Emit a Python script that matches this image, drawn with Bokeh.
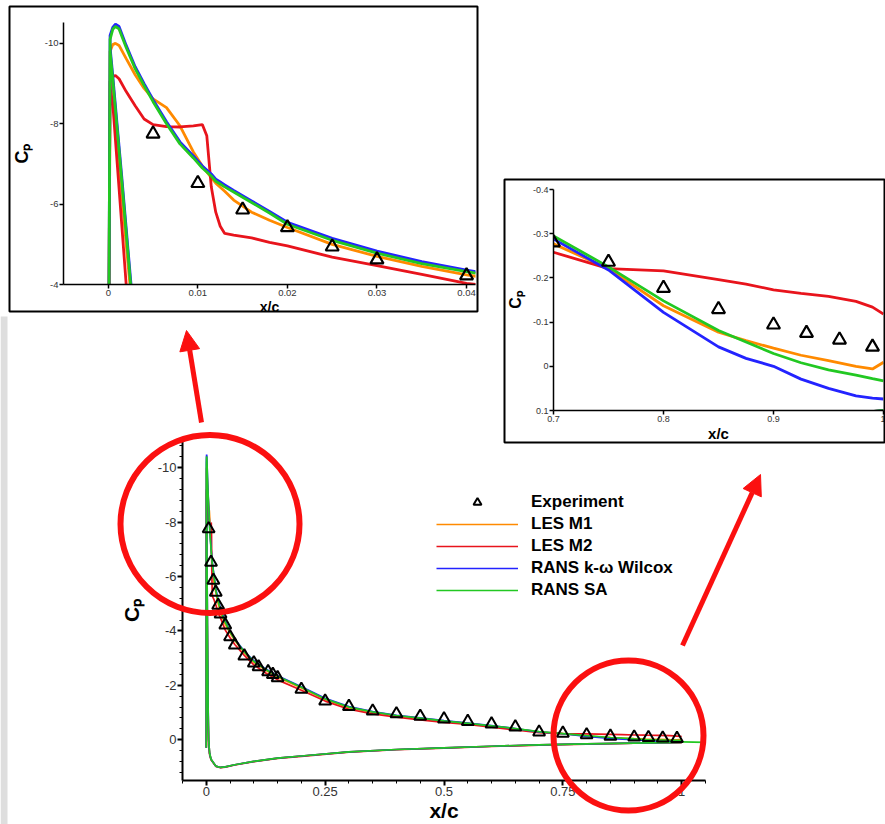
from bokeh.plotting import figure
from bokeh.models import (Range1d, FixedTicker, CustomJSTickFormatter, Legend, LegendItem,
                          GridBox, Arrow, NormalHead)
from bokeh.embed import file_html
from bokeh.resources import INLINE

# ---------------- data ----------------
series_names = ["LES M1", "LES M2", "RANS k-\u03c9 Wilcox", "RANS SA"]

# upper surface, leading edge -> trailing edge
x_up = [0.0002, 0.0005, 0.0008, 0.0012, 0.002, 0.003, 0.004, 0.005, 0.0065, 0.008,
        0.0095, 0.0105, 0.011, 0.0115, 0.012, 0.0125, 0.013, 0.014, 0.016, 0.018,
        0.02, 0.025, 0.03, 0.035, 0.04, 0.05, 0.06, 0.08, 0.1, 0.125,
        0.15, 0.2, 0.25, 0.3, 0.35, 0.4, 0.45, 0.5, 0.55, 0.6,
        0.65, 0.7, 0.75, 0.8, 0.85, 0.875, 0.9, 0.925, 0.95, 0.975, 0.99, 1.0]
cp_up_m1 = [-9.8, -9.97, -10.0, -9.95, -9.62, -9.22, -8.88, -8.62, -8.4, -7.95,
            -7.3, -6.95, -6.8, -6.66, -6.52, -6.42, -6.32, -6.1, -5.8, -5.6,
            -5.42, -5.0, -4.7, -4.45, -4.24, -3.92, -3.65, -3.2, -2.85, -2.55,
            -2.3, -1.9, -1.48, -1.18, -1.0, -0.88, -0.78, -0.68, -0.6, -0.5,
            -0.4, -0.277, -0.221, -0.137, -0.077, -0.058, -0.041, -0.025, -0.013, 0.0, 0.006, -0.009]
cp_up_m2 = [-9.05, -9.18, -9.2, -9.12, -8.8, -8.45, -8.12, -7.98, -7.93, -7.92,
            -7.95, -7.98, -7.7, -6.43, -5.8, -5.45, -5.27, -5.23, -5.16, -5.05,
            -4.96, -4.68, -4.47, -4.25, -4.03, -3.75, -3.5, -3.1, -2.75, -2.45,
            -2.2, -1.82, -1.42, -1.12, -0.95, -0.83, -0.73, -0.64, -0.56, -0.46,
            -0.36, -0.258, -0.221, -0.216, -0.196, -0.186, -0.173, -0.165, -0.158, -0.147, -0.134, -0.118]
cp_up_kw = [-10.2, -10.4, -10.48, -10.42, -9.95, -9.42, -9.0, -8.6, -8.05, -7.55,
            -7.2, -6.95, -6.85, -6.75, -6.62, -6.55, -6.48, -6.34, -6.08, -5.82,
            -5.55, -5.15, -4.83, -4.57, -4.36, -4.0, -3.7, -3.25, -2.9, -2.6,
            -2.35, -1.95, -1.52, -1.22, -1.03, -0.9, -0.8, -0.7, -0.61, -0.52,
            -0.41, -0.288, -0.218, -0.122, -0.044, -0.018, 0.0, 0.029, 0.05, 0.067, 0.072, 0.074]
cp_up_sa = [-10.1, -10.35, -10.42, -10.36, -9.9, -9.37, -8.95, -8.55, -8.0, -7.5,
            -7.15, -6.9, -6.8, -6.7, -6.57, -6.5, -6.43, -6.3, -6.04, -5.78,
            -5.5, -5.1, -4.78, -4.52, -4.32, -3.97, -3.68, -3.23, -2.88, -2.58,
            -2.33, -1.93, -1.5, -1.2, -1.02, -0.89, -0.79, -0.69, -0.6, -0.51,
            -0.41, -0.295, -0.225, -0.148, -0.081, -0.055, -0.029, -0.008, 0.008, 0.02, 0.028, 0.033]

# lower surface, leading edge -> trailing edge (first point: leading-edge node)
x_lo = [0.0, 0.0002, 0.0005, 0.001, 0.0015, 0.002, 0.0025, 0.003, 0.004, 0.005,
        0.007, 0.01, 0.02, 0.03, 0.04, 0.06, 0.1, 0.15, 0.2, 0.3,
        0.4, 0.5, 0.6, 0.7, 0.8, 0.9, 1.0]
cp_lo_m1 = [0.3, -9.5, -8.9, -7.6, -6.3, -5.0, -3.8, -2.6, -0.9, 0.0,
            0.5, 0.72, 0.97, 1.02, 1.0, 0.92, 0.8, 0.68, 0.6, 0.45,
            0.36, 0.3, 0.24, 0.19, 0.15, 0.125, 0.1]
cp_lo_m2 = [0.3, -8.9, -8.5, -7.0, -5.5, -4.0, -2.8, -1.8, -0.5, 0.2,
            0.55, 0.74, 0.98, 1.03, 1.01, 0.93, 0.81, 0.69, 0.61, 0.46,
            0.37, 0.31, 0.25, 0.2, 0.16, 0.13, 0.11]
cp_lo_kw = [0.3, -9.9, -9.2, -7.95, -6.7, -5.4, -4.1, -2.9, -1.1, 0.0,
            0.5, 0.72, 0.97, 1.02, 1.0, 0.92, 0.8, 0.68, 0.6, 0.45,
            0.36, 0.3, 0.24, 0.19, 0.15, 0.125, 0.1]
cp_lo_sa = [0.3, -9.8, -9.1, -7.85, -6.6, -5.3, -4.0, -2.8, -1.0, 0.0,
            0.5, 0.72, 0.97, 1.02, 1.0, 0.92, 0.8, 0.68, 0.6, 0.45,
            0.36, 0.3, 0.24, 0.19, 0.15, 0.125, 0.1]
sa_wake_x = [1.0, 1.05]
sa_wake_cp = [0.08, 0.1]

exp_x = [0.005, 0.01, 0.015, 0.02, 0.025, 0.03, 0.04, 0.05, 0.06, 0.08,
         0.1, 0.11, 0.13, 0.14, 0.15, 0.2, 0.25, 0.3, 0.35, 0.4,
         0.45, 0.5, 0.55, 0.6, 0.65, 0.7, 0.75, 0.8, 0.85, 0.9,
         0.93, 0.96, 0.99]
exp_cp = [-7.75, -6.52, -5.86, -5.42, -4.94, -4.62, -4.22, -3.78, -3.48, -3.08,
          -2.82, -2.68, -2.5, -2.4, -2.28, -1.85, -1.42, -1.22, -1.05, -0.95,
          -0.86, -0.76, -0.67, -0.58, -0.47, -0.28, -0.236, -0.177, -0.129, -0.094,
          -0.075, -0.06, -0.044]

main_xticks = [0, 0.25, 0.5, 0.75, 1]
main_yticks = [-10, -8, -6, -4, -2, 0]
in1_xticks = [0, 0.01, 0.02, 0.03, 0.04]
in1_yticks = [-10, -8, -6, -4]
in2_xticks = [0.7, 0.8, 0.9, 1.0]
in2_yticks = [-0.4, -0.3, -0.2, -0.1, 0, 0.1]

# ---------------- styling / layout (page pixels) ----------------
FONT = "Liberation Sans"
COLORS = ["#ff8a00", "#e8141c", "#2323ff", "#22c822"]
RED = "#fb1010"
W, H = 885, 824
IN1 = dict(left=8, top=5, w=470, h=307)
IN2 = dict(left=503, top=178, w=382, h=265)
MAIN_TOP = 436

def full_curve(lo, up):
    return list(reversed(x_lo)) + x_up, list(reversed(lo)) + up

curves = [full_curve(cp_lo_m1, cp_up_m1), full_curve(cp_lo_m2, cp_up_m2),
          full_curve(cp_lo_kw, cp_up_kw), full_curve(cp_lo_sa, cp_up_sa)]

fmt = CustomJSTickFormatter(code="return String(Math.round(tick*10000)/10000);")

def style(p, ticks_x, ticks_y, minor_x, minor_y, tick_fs, lab_fs, lw, tick_out):
    p.xaxis[0].ticker = FixedTicker(ticks=ticks_x, minor_ticks=minor_x)
    p.yaxis[0].ticker = FixedTicker(ticks=ticks_y, minor_ticks=minor_y)
    for ax in (p.xaxis[0], p.yaxis[0]):
        ax.formatter = fmt
        ax.axis_line_width = lw
        ax.axis_line_color = "black"
        ax.major_tick_line_width = lw
        ax.minor_tick_line_width = 1
        ax.major_tick_in = 0
        ax.major_tick_out = tick_out
        ax.minor_tick_in = 0
        ax.minor_tick_out = max(2, tick_out - 2)
        ax.major_label_text_font = FONT
        ax.major_label_text_font_size = tick_fs
        ax.major_label_text_color = "#333333"
        ax.major_label_standoff = 1
        ax.axis_label_text_font = FONT
        ax.axis_label_text_font_style = "bold"
        ax.axis_label_text_font_size = lab_fs
        ax.axis_label_text_color = "black"
        ax.axis_label_standoff = 0
    if not minor_x:
        p.xaxis[0].minor_tick_line_color = None
    if not minor_y:
        p.yaxis[0].minor_tick_line_color = None
    p.xgrid.grid_line_color = None
    p.ygrid.grid_line_color = None

# ---------------- main plot ----------------
main = figure(width=W, height=H - MAIN_TOP, x_range=Range1d(-0.05, 1.05), y_range=Range1d(1.5, -11),
              output_backend="svg", toolbar_location=None,
              min_border_left=182, min_border_right=180, min_border_top=4, min_border_bottom=0,
              x_axis_label="x/c", y_axis_label="C\u209a",
              background_fill_color=None, border_fill_color=None, outline_line_color=None)
style(main, main_xticks, main_yticks,
      [round(-0.05 + 0.05 * i, 2) for i in range(23)],
      [round(-10.8 + 0.4 * i, 1) for i in range(31)],
      "13px", "21px", 2, 5)
main.yaxis[0].axis_label_standoff = 12

renderers = []
for (cx, cy), col in zip(curves, COLORS):
    renderers.append(main.line(cx, cy, line_color=col, line_width=1.7))
main.line(sa_wake_x, sa_wake_cp, line_color=COLORS[3], line_width=1.7)
r_exp = main.scatter(exp_x, exp_cp, marker="triangle", size=12, line_color="black",
                     line_width=2, fill_color=None)

legend = Legend(items=[LegendItem(label="Experiment", renderers=[r_exp])] +
                [LegendItem(label=n, renderers=[r]) for n, r in zip(series_names, renderers)],
                location=(254, 180), glyph_width=82, glyph_height=20, label_height=20,
                label_standoff=13, spacing=2, padding=0, margin=0,
                border_line_color=None, background_fill_alpha=0,
                label_text_font=FONT, label_text_font_style="bold", label_text_font_size="17px",
                label_text_color="black")
main.add_layout(legend)

# ---------------- inset 1 (leading edge) ----------------
in1 = figure(width=IN1["w"], height=IN1["h"] + 5, x_range=Range1d(-0.005, 0.041), y_range=Range1d(-4, -10.52),
             output_backend="svg", toolbar_location=None,
             min_border_left=55, min_border_right=3, min_border_top=17, min_border_bottom=0,
             x_axis_label="x/c", y_axis_label="C\u209a",
             background_fill_color="white", border_fill_color="white", outline_line_color=None)
style(in1, in1_xticks, in1_yticks, [], [], "9.5px", "14px", 1.5, 4)
in1.yaxis[0].axis_label_standoff = 10
in1.yaxis[0].axis_label_text_font_size = "18px"
for (cx, cy), col in zip(curves, COLORS):
    in1.line(cx, cy, line_color=col, line_width=2.8)
in1.scatter(exp_x, exp_cp, marker="triangle", size=13, line_color="black", line_width=2.2, fill_color=None)

# ---------------- inset 2 (trailing edge) ----------------
in2 = figure(width=IN2["w"], height=IN2["h"] + 1, x_range=Range1d(0.7, 1.0), y_range=Range1d(0.1, -0.4),
             output_backend="svg", toolbar_location=None,
             min_border_left=41, min_border_right=2, min_border_top=11, min_border_bottom=0,
             x_axis_label="x/c", y_axis_label="C\u209a",
             background_fill_color="white", border_fill_color="white", outline_line_color=None)
style(in2, in2_xticks, in2_yticks, [], [], "9px", "15px", 1.5, 4)
in2.yaxis[0].axis_label_standoff = 6
in2.yaxis[0].axis_label_text_font_size = "16px"
for (cx, cy), col in zip(curves, COLORS):
    in2.line(cx, cy, line_color=col, line_width=2.8)
in2.scatter(exp_x, exp_cp, marker="triangle", size=13, line_color="black", line_width=2.2, fill_color=None)

# ---------------- overlay: page edge, boxes, circles, arrows ----------------
ov = figure(width=W, height=H, x_range=Range1d(0, W), y_range=Range1d(H, 0),
            x_axis_type=None, y_axis_type=None, output_backend="svg", toolbar_location=None,
            min_border=0, min_border_left=0, min_border_right=0, min_border_top=0, min_border_bottom=0,
            background_fill_color=None, border_fill_color=None, outline_line_color=None)
ov.quad(left=[0], right=[7], top=[316], bottom=[H], fill_color="#dedede", line_color=None)
ov.quad(left=[IN1["left"] + 1, IN2["left"] + 1], right=[IN1["left"] + IN1["w"] - 1, IN2["left"] + IN2["w"] - 1],
        top=[IN1["top"] + 1, IN2["top"] + 1], bottom=[IN1["top"] + IN1["h"] - 1, IN2["top"] + IN2["h"] - 1],
        fill_color=None, line_color="black", line_width=2)
ov.ellipse(x=[209.5, 628], y=[523.5, 735], width=[179, 150], height=[178, 150],
           fill_color=None, line_color=RED, line_width=6)
for xs, ys, xe, ye in [(201, 422, 186, 330), (682, 645, 760, 474)]:
    ov.add_layout(Arrow(x_start=xs, y_start=ys, x_end=xe, y_end=ye, line_color=RED, line_width=5,
                        end=NormalHead(size=20, fill_color=RED, line_color=RED)))

# grid with distinct start/end tracks per child so that no plot borders get aligned
cols = ["0px", "%dpx" % IN1["left"], "%dpx" % (IN2["left"] - IN1["left"]), "%dpx" % IN2["w"], "0px", "0px"]
rows = ["%dpx" % IN1["top"], "%dpx" % (IN2["top"] - IN1["top"]), "%dpx" % (MAIN_TOP - IN2["top"]),
        "0px", "0px", "%dpx" % (H - MAIN_TOP), "0px", "0px"]
grid = GridBox(children=[(main, 5, 1, 2, 4),     # rows 5-6, cols 1-4
                         (in1, 1, 2, 3, 1),      # rows 1-3, col 2
                         (in2, 2, 3, 4, 1),      # rows 2-5, col 3
                         (ov, 0, 0, 8, 6)],      # everything
               rows=rows, cols=cols)

open("out.html", "w").write(file_html(grid, INLINE))
